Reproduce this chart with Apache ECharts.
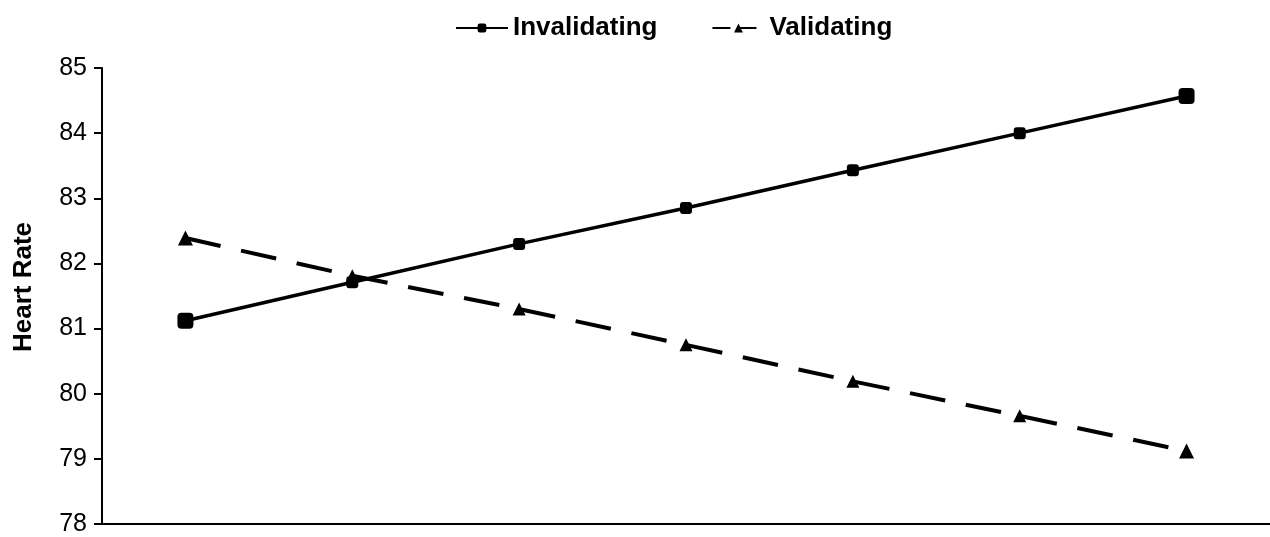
<!DOCTYPE html>
<html>
<head>
<meta charset="utf-8">
<script src="https://cdn.jsdelivr.net/npm/echarts@6/dist/echarts.min.js"></script>
<style>
  html, body { margin: 0; padding: 0; background: #fff; overflow: hidden; }
  #chart { width: 1270px; height: 537px; }
</style>
</head>
<body>
<div id="chart"></div>
<script>
// data
const categories = ['1', '2', '3', '4', '5', '6', '7'];
const invalidating = [81.12, 81.71, 82.3, 82.85, 83.43, 84.0, 84.57];
const validating = [82.39, 81.81, 81.3, 80.75, 80.19, 79.66, 79.12];
const yTicks = [78, 79, 80, 81, 82, 83, 84, 85];

const chart = echarts.init(document.getElementById('chart'));

// bigger markers on the end points, like the original
function withEnds(values, small, big) {
    return values.map((v, i) => ({
        value: v,
        symbolSize: (i === 0 || i === values.length - 1) ? big : small
    }));
}

const font = 'Arial, "Liberation Sans", sans-serif';

chart.setOption({
    animation: false,
    legend: {
        top: 10,
        left: 450,
        itemGap: 54,
        itemWidth: 52,
        itemHeight: 11,
        textStyle: { fontFamily: font, fontSize: 26, fontWeight: 'bold', color: '#000' },
        data: [
            { name: 'Invalidating' },
            { name: 'Validating', lineStyle: { type: [18, 8] } }
        ]
    },
    grid: { left: 102, width: 1176, top: 68, bottom: 13 },
    xAxis: {
        type: 'category',
        data: categories,
        boundaryGap: true,
        axisLine: { lineStyle: { color: '#000', width: 2 } },
        axisTick: { show: false },
        axisLabel: { show: false }
    },
    yAxis: {
        type: 'value',
        min: yTicks[0],
        max: yTicks[yTicks.length - 1],
        interval: 1,
        name: 'Heart Rate',
        nameLocation: 'middle',
        nameGap: 65,
        nameTextStyle: {
            fontFamily: font, fontSize: 26, fontWeight: 'bold', color: '#000',
            padding: [0, 0, 0, 18]
        },
        axisLine: { show: true, lineStyle: { color: '#000', width: 2 } },
        axisTick: { show: true, inside: false, length: 8, lineStyle: { color: '#000', width: 2 } },
        axisLabel: { fontFamily: font, fontSize: 25, color: '#000', margin: 15 },
        splitLine: { show: false }
    },
    series: [
        {
            name: 'Invalidating',
            type: 'line',
            data: withEnds(invalidating, 12, 16),
            symbol: 'roundRect',
            itemStyle: { color: '#000' },
            lineStyle: { color: '#000', width: 3.5 }
        },
        {
            name: 'Validating',
            type: 'line',
            data: withEnds(validating, 13, 15),
            symbol: 'triangle',
            itemStyle: { color: '#000' },
            lineStyle: { color: '#000', width: 4, type: [36, 21] }
        }
    ]
});
</script>
</body>
</html>
